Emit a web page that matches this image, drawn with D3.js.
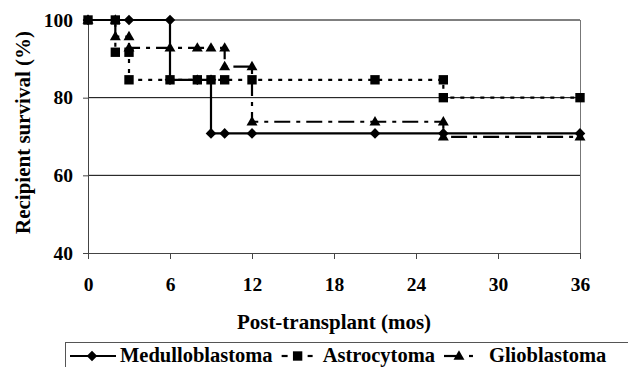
<!DOCTYPE html>
<html>
<head>
<meta charset="utf-8">
<script src="https://cdn.jsdelivr.net/npm/d3@7"></script>
<style>
  body { margin: 0; background: #fff; }
</style>
</head>
<body>
<svg id="chart" width="628" height="367"></svg>
<script>
// survival curves: [months, survival %] at each step vertex
const medulloblastoma = [[0,100],[3,100],[6,100],[6,84.6],[8,84.6],[9,84.6],[9,70.8],[10,70.8],[12,70.8],[21,70.8],[26,70.8],[36,70.8]];
const astrocytoma = [[0,100],[2,100],[2,91.7],[3,91.7],[3,84.6],[6,84.6],[8,84.6],[9,84.6],[10,84.6],[12,84.6],[21,84.6],[26,84.6],[26,80],[36,80]];
const glioblastoma = [[0,100],[2,100],[2,95.7],[3,95.7],[3,92.8],[6,92.8],[8,92.8],[9,92.8],[10,92.8],[10,88],[12,88],[12,73.8],[21,73.8],[26,73.8],[26,69.9],[36,69.9]];

const xTicks = [0, 6, 12, 18, 24, 30, 36];
const yTicks = [40, 60, 80, 100];
const seriesNames = ["Medulloblastoma", "Astrocytoma", "Glioblastoma"];

const FONT = "'Liberation Serif', 'DejaVu Serif', serif";
const svg = d3.select("#chart");
const mLeft = 88, mRight = 580, mTop = 20, mBottom = 253;

const x = d3.scaleLinear().domain([0, 36]).range([mLeft, mRight]);
const y = d3.scaleLinear().domain([40, 100]).range([mBottom, mTop]);

const styleText = (sel, size) => sel.style("font-family", FONT).style("font-weight", "bold")
  .style("font-size", size + "px").attr("fill", "#000");

// gridlines
svg.append("g").selectAll("line").data(yTicks.filter(t => t > 40)).enter().append("line")
  .attr("x1", mLeft).attr("x2", mRight).attr("y1", d => y(d)).attr("y2", d => y(d))
  .attr("stroke", "#000").attr("stroke-width", 1);

// right border
svg.append("line").attr("x1", mRight + 0.5).attr("x2", mRight + 0.5).attr("y1", mTop).attr("y2", mBottom)
  .attr("stroke", "#777").attr("stroke-width", 1);

// axes
const gx = svg.append("g").attr("transform", `translate(0,${mBottom})`)
  .call(d3.axisBottom(x).tickValues(xTicks).tickSize(6).tickPadding(18));
const gy = svg.append("g").attr("transform", `translate(${mLeft},0)`)
  .call(d3.axisLeft(y).tickValues(yTicks).tickSize(5).tickPadding(10));
[gx, gy].forEach(g => {
  g.attr("font-family", null).attr("font-size", null);
  g.select(".domain").attr("stroke", "#444");
  g.selectAll(".tick line").attr("stroke", "#444");
  styleText(g.selectAll("text"), 19.5);
});

// axis titles
styleText(svg.append("text").attr("x", (mLeft + mRight) / 2).attr("y", 329)
  .attr("text-anchor", "middle"), 21).text("Post-transplant (mos)");
styleText(svg.append("text").attr("transform", `translate(30,${(mTop + mBottom) / 2 - 4}) rotate(-90)`)
  .attr("text-anchor", "middle"), 21).text("Recipient survival (%)");

const line = d3.line().x(d => x(d[0])).y(d => y(d[1]));

const symbols = {
  diamond: { path: d3.symbol().type(d3.symbolSquare).size(56), rot: 45, dy: 0 },
  square: { path: d3.symbol().type(d3.symbolSquare).size(88), rot: 0, dy: 0 },
  triangle: { path: d3.symbol().type(d3.symbolTriangle).size(52), rot: 0, dy: 0.5 }
};
const place = (sym, px, py) => `translate(${px},${py + symbols[sym].dy}) rotate(${symbols[sym].rot})`;

const series = [
  { data: glioblastoma, dash: "16,6,4,6", sym: "triangle" },
  { data: medulloblastoma, dash: null, sym: "diamond" },
  { data: astrocytoma, dash: "4,6", sym: "square" }
];

series.forEach(s => {
  svg.append("path").datum(s.data).attr("d", line)
    .attr("fill", "none").attr("stroke", "#000").attr("stroke-width", 2.2)
    .attr("stroke-dasharray", s.dash);
  svg.append("g").selectAll("path").data(s.data).enter().append("path")
    .attr("d", symbols[s.sym].path())
    .attr("transform", d => place(s.sym, x(d[0]), y(d[1])))
    .attr("fill", "#000");
});

// legend: keys laid out one after the other
const lg = svg.append("g");
lg.append("rect").attr("x", 65.5).attr("y", 342.5).attr("width", 570).attr("height", 40)
  .attr("fill", "none").attr("stroke", "#555").attr("stroke-width", 1);
const ly = 356;
const key = (x1, x2) => lg.append("line").attr("x1", x1).attr("x2", x2).attr("y1", ly).attr("y2", ly)
  .attr("stroke", "#000").attr("stroke-width", 2.2);
const label = (tx, s) => {
  const t = styleText(lg.append("text").attr("x", tx).attr("y", ly + 6), 20.5).text(s);
  return tx + t.node().getComputedTextLength();
};
// medulloblastoma key
key(70, 116);
lg.append("path").attr("d", symbols.diamond.path()).attr("transform", place("diamond", 92, ly));
let cx = label(120, seriesNames[0]);
// astrocytoma key
cx += 9;
key(cx, cx + 6);
lg.append("path").attr("d", symbols.square.path()).attr("transform", place("square", cx + 16, ly));
key(cx + 26, cx + 31);
cx = label(cx + 41, seriesNames[1]);
// glioblastoma key
cx += 9;
key(cx, cx + 13);
lg.append("path").attr("d", symbols.triangle.path()).attr("transform", place("triangle", cx + 15, ly));
key(cx + 25, cx + 29);
label(cx + 45, seriesNames[2]);
</script>
</body>
</html>
